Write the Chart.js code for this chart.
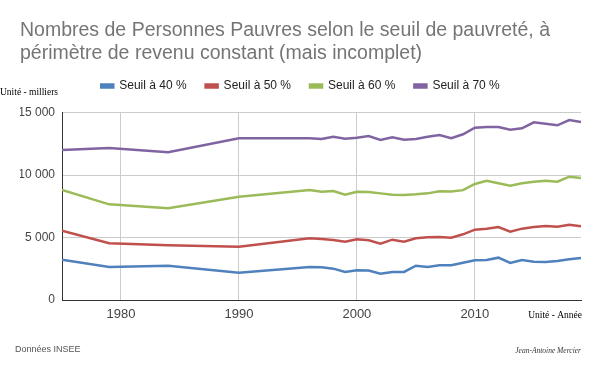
<!DOCTYPE html>
<html>
<head>
<meta charset="utf-8">
<script src="https://cdn.jsdelivr.net/npm/chart.js@4/dist/chart.umd.min.js"></script>
<style>
  html, body { margin: 0; padding: 0; background: #fff; }
  #wrap { width: 600px; height: 371px; }
</style>
</head>
<body>
<div id="wrap"><canvas id="pauvrete" width="600" height="371"></canvas></div>
<script>
// années (axe linéaire)
const years = [1975, 1979, 1984, 1990, 1996, 1997, 1998, 1999, 2000, 2001, 2002, 2003, 2004,
  2005, 2006, 2007, 2008, 2009, 2010, 2011, 2012, 2013, 2014, 2015, 2016, 2017, 2018, 2019];

// nombre de personnes pauvres, en milliers
const seuil40 = [3230, 2640, 2750, 2190, 2640, 2620, 2510, 2245, 2375, 2365, 2110, 2245, 2245,
  2750, 2645, 2790, 2780, 2990, 3175, 3205, 3390, 2965, 3205, 3070, 3045, 3125, 3255, 3365];
const seuil50 = [5550, 4540, 4380, 4270, 4940, 4885, 4805, 4670, 4860, 4780, 4510, 4830, 4670,
  4940, 5020, 5045, 4990, 5260, 5635, 5715, 5845, 5475, 5715, 5845, 5925, 5875, 6035, 5900];
const seuil60 = [8810, 7660, 7340, 8270, 8810, 8675, 8730, 8435, 8675, 8650, 8540, 8435, 8410,
  8460, 8540, 8700, 8690, 8800, 9290, 9555, 9345, 9155, 9345, 9475, 9555, 9475, 9875, 9770];
const seuil70 = [12010, 12170, 11830, 12950, 12950, 12900, 13080, 12920, 13000, 13135, 12815, 13030, 12840,
  12895, 13080, 13215, 12950, 13270, 13800, 13855, 13855, 13640, 13750, 14230, 14120, 13990, 14415, 14255];

const seriesNames = ["Seuil à 40 %", "Seuil à 50 %", "Seuil à 60 %", "Seuil à 70 %"];
const xTicks = [1980, 1990, 2000, 2010];
const yTicks = [0, 5000, 10000, 15000];

const colors = ["#4f81bd", "#c0504d", "#9bbb59", "#8064a2"];
const allSeries = [seuil40, seuil50, seuil60, seuil70];

const toPoints = (values) => values.map((v, i) => ({ x: years[i], y: v }));

// "15 000" avec espace
const fmtMilliers = (v) => String(v).replace(/\B(?=(\d{3})+(?!\d))/g, " ");

// textes annexes (unités, source, signature)
const extraTexts = {
  id: "extraTexts",
  beforeLayout(chart) {
    // hauteur de la légende imposée pour caler la zone de tracé
    const lg = chart.legend;
    if (lg && !lg._patched) {
      const fit = lg.fit;
      lg.fit = function () {
        fit.call(this);
        this.height = 51.7;
      };
      lg._patched = true;
    }
  },
  afterDraw(chart) {
    const ctx = chart.ctx;
    ctx.save();
    ctx.fillStyle = "#000";
    ctx.font = "9.5px 'Liberation Serif'";
    ctx.textBaseline = "alphabetic";
    ctx.textAlign = "left";
    ctx.fillText("Unité - milliers", 0, 95);
    ctx.textAlign = "right";
    ctx.fillText("Unité - Année", 582, 318);

    ctx.textAlign = "left";
    ctx.fillStyle = "#555";
    ctx.font = "9px 'Liberation Sans'";
    ctx.fillText("Données INSEE", 15, 352);

    ctx.textAlign = "right";
    ctx.fillStyle = "#333";
    ctx.font = "italic 7.5px 'Liberation Serif'";
    ctx.fillText("Jean-Antoine Mercier", 581, 353);
    ctx.restore();
  },
};

new Chart(document.getElementById("pauvrete"), {
  type: "line",
  data: {
    datasets: allSeries.map((vals, i) => ({
      label: seriesNames[i],
      data: toPoints(vals),
      borderColor: colors[i],
      backgroundColor: colors[i],
      borderWidth: 2.5,
      pointRadius: 0,
      tension: 0,
      fill: false,
    })),
  },
  options: {
    responsive: false,
    animation: false,
    layout: { padding: { left: 20, right: 19, top: 0, bottom: 0 } },
    plugins: {
      title: {
        display: true,
        text: [
          "Nombres de Personnes Pauvres selon le seuil de pauvreté, à",
          "périmètre de revenu constant (mais incomplet)",
        ],
        align: "start",
        color: "#757575",
        font: { family: "'Liberation Sans', Arial, sans-serif", size: 19.5, weight: "normal", lineHeight: 1.195 },
        padding: { top: 18.75, bottom: -4.35 },
      },
      legend: {
        position: "top",
        align: "center",
        labels: {
          boxWidth: 12,
          boxHeight: 3,
          padding: 19,
          color: "#222",
          font: { family: "'Liberation Sans', Arial, sans-serif", size: 12 },
        },
      },
      tooltip: { enabled: false },
    },
    scales: {
      x: {
        type: "linear",
        min: 1975,
        max: 2019,
        afterBuildTicks: (axis) => {
          axis.ticks = xTicks.map((v) => ({ value: v }));
        },
        afterFit: (axis) => {
          axis.height = 71;
        },
        grid: { color: "#cccccc", drawTicks: false },
        border: { color: "#333", width: 1 },
        ticks: {
          padding: 7,
          color: "#444",
          maxRotation: 0,
          font: { family: "'Liberation Sans', Arial, sans-serif", size: 13 },
          callback: (v) => String(v),
        },
      },
      y: {
        min: 0,
        max: 15000,
        afterBuildTicks: (axis) => {
          axis.ticks = yTicks.map((v) => ({ value: v }));
        },
        afterFit: (axis) => {
          axis.width = 42;
        },
        grid: { color: "#cccccc", drawTicks: false },
        border: { color: "#333", width: 1 },
        ticks: {
          padding: 7,
          color: "#444",
          font: { family: "'Liberation Sans', Arial, sans-serif", size: 12 },
          callback: (v) => fmtMilliers(v),
        },
      },
    },
  },
  plugins: [extraTexts],
});
</script>
</body>
</html>
